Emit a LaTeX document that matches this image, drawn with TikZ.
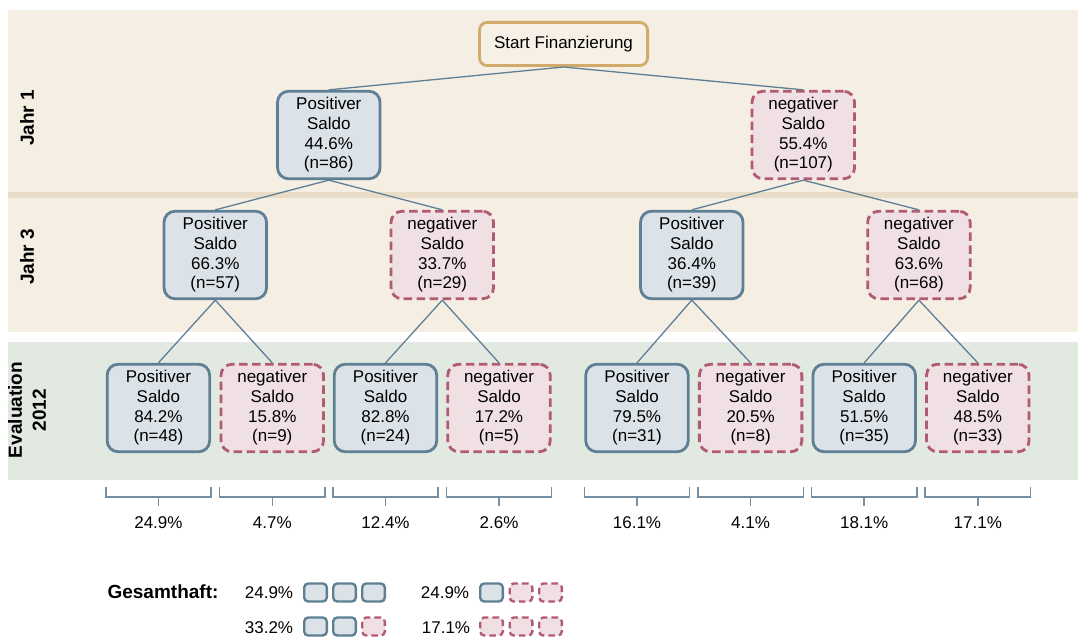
\documentclass[tikz,border=0pt]{standalone}
\usepackage{fontspec}
\setmainfont{Liberation Sans}
\definecolor{bandbeige}{HTML}{F4EEE3}
\definecolor{divbeige}{HTML}{E9DDC8}
\definecolor{bandgreen}{HTML}{E2E9E1}
\definecolor{posfill}{HTML}{DCE3E8}
\definecolor{posline}{HTML}{5F7F94}
\definecolor{negfill}{HTML}{F0DFE3}
\definecolor{negline}{HTML}{B05A73}
\definecolor{startfill}{HTML}{F6F0E6}
\definecolor{startline}{HTML}{D1AB6E}
\definecolor{connc}{HTML}{5E7F96}
\definecolor{brkc}{HTML}{7590A5}
\begin{document}
\begin{tikzpicture}[x=1pt,y=-1pt,
  txt/.style={font=\fontsize{17}{19.7}\selectfont},
  box/.style={txt, rounded corners=11pt, minimum width=102.5pt, minimum height=87.5pt,
    inner sep=0pt, align=center, line width=2.8pt,
    execute at begin node={\rule{0pt}{17pt}}},
  posbox/.style={box, draw=posline, fill=posfill},
  negbox/.style={box, draw=negline, fill=negfill, dash pattern=on 8.5pt off 4.5pt},
  startbox/.style={txt, draw=startline, fill=startfill, line width=2.8pt,
    rounded corners=8pt, minimum width=168.2pt, minimum height=43.2pt, inner sep=0pt},
  conn/.style={draw=connc, line width=1.3pt},
  brk/.style={draw=brkc, line width=1.5pt},
  lbl/.style={txt, inner sep=0pt},
  rowlbl/.style={font=\bfseries\fontsize{19}{24}\selectfont, align=center, inner sep=0pt},
  spos/.style={draw=posline, fill=posfill, line width=2.4pt, rounded corners=4pt,
    minimum width=22.6pt, minimum height=18pt, inner sep=0pt},
  sneg/.style={draw=negline, fill=negfill, line width=2.4pt, rounded corners=4pt,
    minimum width=22.6pt, minimum height=18pt, inner sep=0pt, dash pattern=on 6.5pt off 4pt}
]
\useasboundingbox (0,0) rectangle (1078,639);
% bands
\fill[bandbeige] (8,10) rectangle (1078,332);
\fill[divbeige] (8,192) rectangle (1078,198);
\fill[bandgreen] (8,342) rectangle (1078,480);

% row labels
\node[rowlbl, rotate=90] (lj1) at (27,118) {Jahr 1};
\node[rowlbl, rotate=90] (lj3) at (27,257) {Jahr 3};
\node[rowlbl, rotate=90] (lev) at (27,410) {Evaluation\\2012};

% start
\node[startbox] (start) at (563.5,44) {Start Finanzierung};

% Jahr 1
\node[posbox] (a1) at (328.8,135) {Positiver\\Saldo\\44.6\%\\(n=86)};
\node[negbox] (a2) at (803.3,135) {negativer\\Saldo\\55.4\%\\(n=107)};

% Jahr 3
\node[posbox] (b1) at (215.3,255) {Positiver\\Saldo\\66.3\%\\(n=57)};
\node[negbox] (b2) at (442.3,255) {negativer\\Saldo\\33.7\%\\(n=29)};
\node[posbox] (b3) at (691.8,255) {Positiver\\Saldo\\36.4\%\\(n=39)};
\node[negbox] (b4) at (918.9,255) {negativer\\Saldo\\63.6\%\\(n=68)};

% Evaluation 2012
\foreach \i/\x/\t/\w/\p/\n in {
  1/158.4/posbox/Positiver/84.2/48,
  2/272.3/negbox/negativer/15.8/9,
  3/385.5/posbox/Positiver/82.8/24,
  4/499.0/negbox/negativer/17.2/5,
  5/637.0/posbox/Positiver/79.5/31,
  6/750.6/negbox/negativer/20.5/8,
  7/864.2/posbox/Positiver/51.5/35,
  8/977.8/negbox/negativer/48.5/33}{
  \node[\t] (e\i) at (\x,408) {\w\\Saldo\\\p\%\\(n=\n)};
}

% connectors
\draw[conn] (start.south) -- (a1.north);
\draw[conn] (start.south) -- (a2.north);
\draw[conn] (a1.south) -- (b1.north);
\draw[conn] (a1.south) -- (b2.north);
\draw[conn] (a2.south) -- (b3.north);
\draw[conn] (a2.south) -- (b4.north);
\draw[conn] (b1.south) -- (e1.north);
\draw[conn] (b1.south) -- (e2.north);
\draw[conn] (b2.south) -- (e3.north);
\draw[conn] (b2.south) -- (e4.north);
\draw[conn] (b3.south) -- (e5.north);
\draw[conn] (b3.south) -- (e6.north);
\draw[conn] (b4.south) -- (e7.north);
\draw[conn] (b4.south) -- (e8.north);

% brackets and shares
\foreach \i/\v in {1/24.9,2/4.7,3/12.4,4/2.6,5/16.1,6/4.1,7/18.1,8/17.1}{
  \draw[brk] ([yshift=-34pt]e\i.south west) -- ([yshift=-43.7pt]e\i.south west)
    -- ([yshift=-43.7pt]e\i.south east) -- ([yshift=-34pt]e\i.south east);
  \draw[brk] ([yshift=-43.7pt]e\i.south) -- ([yshift=-52.7pt]e\i.south);
  \node[lbl] (p\i) at ([yshift=-69.5pt]e\i.south) {\v\%};
}

% Gesamthaft
\node[rowlbl] (ges) at (163,592) {Gesamthaft:};
\node[lbl] (g1) at (269,593) {24.9\%};
\node[lbl] (g2) at (269,628) {33.2\%};
\node[lbl] (g3) at (445,593) {24.9\%};
\node[lbl] (g4) at (446,628) {17.1\%};

\node[spos] (s11) at (315.5,592.5) {};
\node[spos] (s12) at (344.5,592.5) {};
\node[spos] (s13) at (373.5,592.5) {};
\node[spos] (s21) at (315.5,626.5) {};
\node[spos] (s22) at (344.5,626.5) {};
\node[sneg] (s23) at (373.5,626.5) {};
\node[spos] (s31) at (491.5,592.5) {};
\node[sneg] (s32) at (521,592.5) {};
\node[sneg] (s33) at (550.5,592.5) {};
\node[sneg] (s41) at (491.5,626.5) {};
\node[sneg] (s42) at (521,626.5) {};
\node[sneg] (s43) at (550.5,626.5) {};
\end{tikzpicture}
\end{document}
